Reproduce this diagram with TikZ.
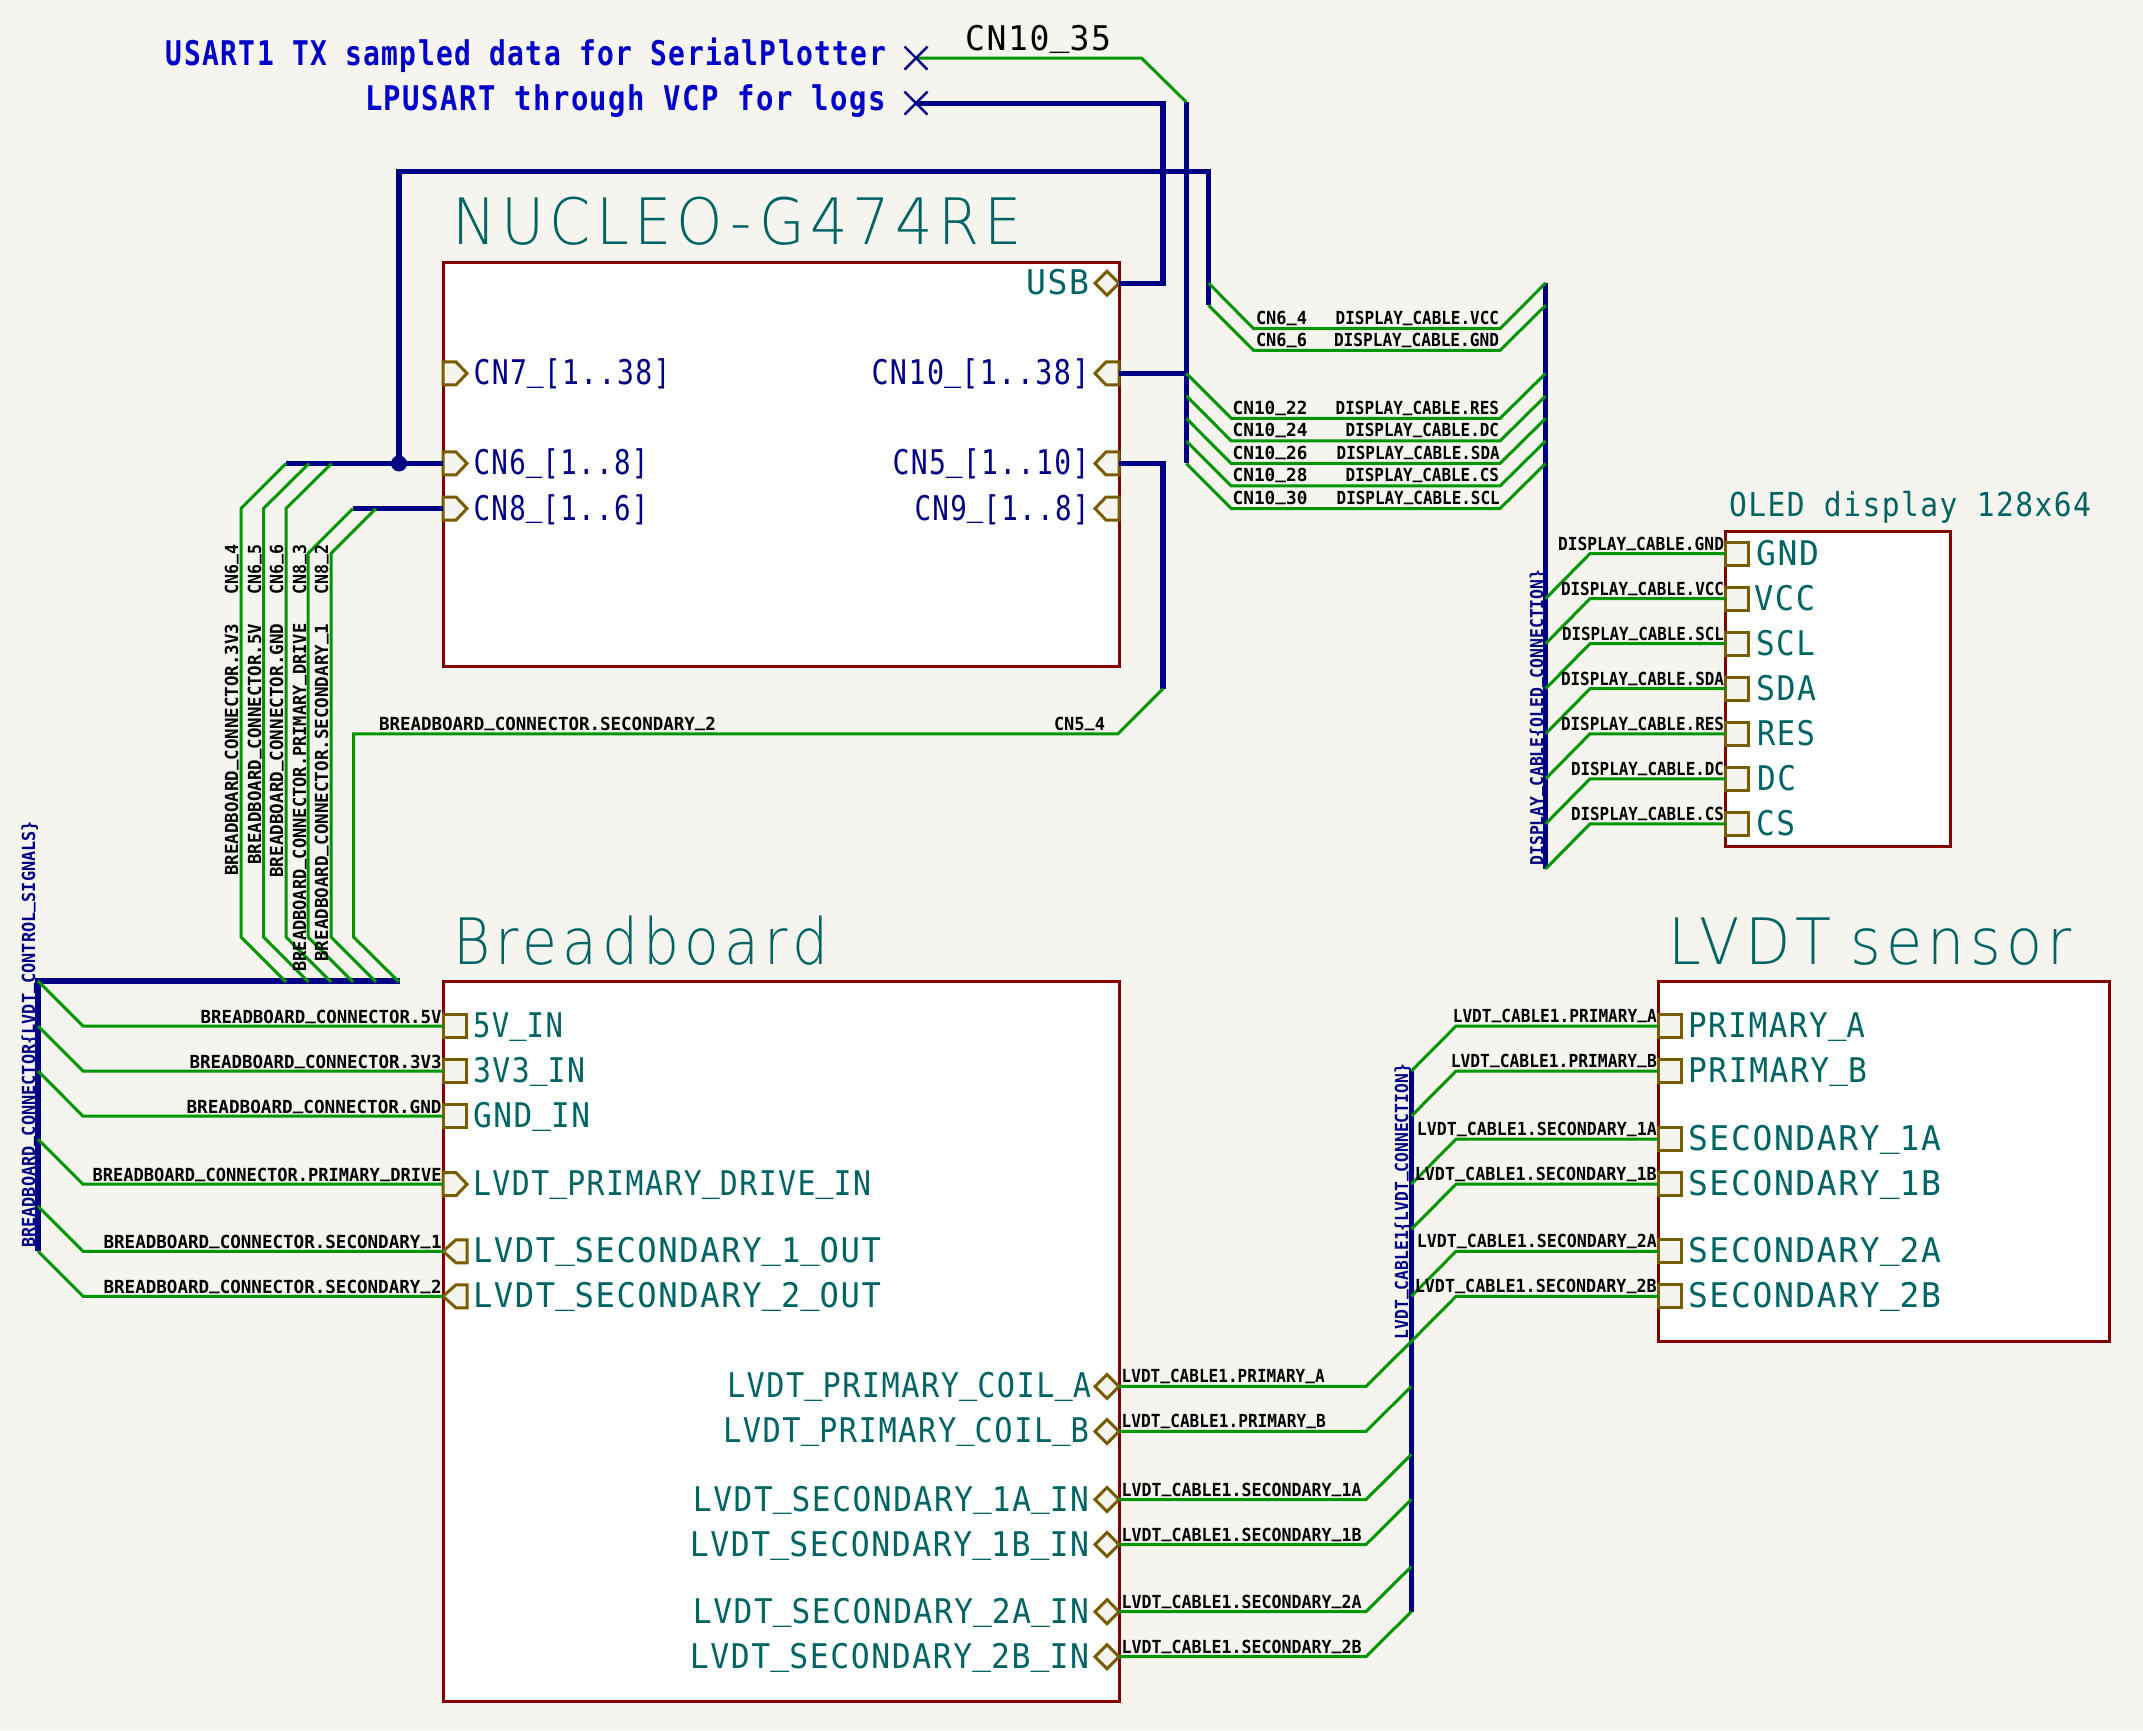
\documentclass[tikz,border=0pt]{standalone}
\usepackage{fontspec}
\newfontfamily\kmono{DejaVu Sans Mono}
\newfontfamily\kpin[LetterSpace=5]{DejaVu Sans Mono}
\newfontfamily\kglob[LetterSpace=5]{DejaVu Sans Mono}
\newfontfamily\kthin[LetterSpace=9]{DejaVu Sans ExtraLight}
\definecolor{paper}{HTML}{F5F4EF}
\definecolor{sheetred}{HTML}{840000}
\definecolor{busblue}{HTML}{000084}
\definecolor{globblue}{HTML}{0000C8}
\definecolor{wiregreen}{HTML}{009600}
\definecolor{teal}{HTML}{006464}
\definecolor{pinbrown}{HTML}{7A5C00}
\newcommand{\fs}[2]{\fontsize{#1}{#1}\selectfont\resizebox{#2pt}{\height}}
\newcommand{\smus}{\def\_{\raisebox{.2em}{\char"5F}}}
\newcommand{\bgus}{\def\_{\raisebox{.12em}{\char"5F}}}
% small net label: name, anchor, x, y, width, text
\newcommand{\sm}[6]{\node[lb,anchor=#2] (#1) at (#3,#4) {\smus\kmono\bfseries\fs{18}{#5}{#6}};}
\newcommand{\vsm}[5]{\node[lb,rotate=90,anchor=base east] (#1) at (#2,#3) {\smus\kmono\bfseries\fs{18}{#4}{#5}};}
\newcommand{\vbus}[5]{\node[lb,rotate=90,anchor=base east,text=busblue] (#1) at (#2,#3) {\smus\kmono\bfseries\fs{18}{#4}{#5}};}
% sheet pin text
\newcommand{\ptl}[7]{\node[lb,anchor=#2,text=#6] (#1) at (#3,#4) {\bgus\kpin\fs{34}{#5}{#7}};}
% pin shapes
\newcommand{\pinsq}[3]{\coordinate (#1) at (#2,#3); \draw[pin] ($(#1)+(0,-11.5)$) -- ++(23,0) -- ++(0,23) -- ++(-23,0) -- cycle;}
\newcommand{\pinin}[3]{\coordinate (#1) at (#2,#3); \draw[pin] ($(#1)+(0,-11.5)$) -- ++(13,0) -- ++(11,11.5) -- ++(-11,11.5) -- ++(-13,0) -- cycle;}
\newcommand{\pinout}[3]{\coordinate (#1) at (#2,#3); \draw[pin] (#1) -- ++(13,-11.5) -- ++(11,0) -- ++(0,23) -- ++(-11,0) -- cycle;}
\newcommand{\pinrin}[3]{\coordinate (#1) at (#2,#3); \draw[pin] ($(#1)+(0,-11.5)$) -- ++(-13,0) -- ++(-11,11.5) -- ++(11,11.5) -- ++(13,0) -- cycle;}
\newcommand{\pindi}[3]{\coordinate (#1) at (#2,#3); \draw[pin] (#1) -- ++(-12,-12) -- ++(-12,12) -- ++(12,12) -- cycle;}
\usetikzlibrary{calc}
\tikzset{
  lb/.style={inner sep=0pt,outer sep=0pt,text=black},
  sheet/.style={draw=sheetred,fill=white,line width=3pt,anchor=north west,inner sep=0pt,outer sep=0pt,line join=miter},
  wire/.style={draw=wiregreen,line width=3pt,line join=miter},
  bus/.style={draw=busblue,line width=5.2pt,line join=miter,line cap=butt},
  pin/.style={draw=pinbrown,fill=paper,line width=3pt,line join=miter},
  nc/.style={draw=busblue,line width=2.4pt},
}
\begin{document}
\begin{tikzpicture}[x=1pt,y=-1.001pt]
\fill[paper,use as bounding box] (0,0) rectangle (2143,1728.27);

% sheets
\node[sheet,minimum width=676pt,minimum height=404pt] (nucleo) at (443,262) {};
\node[sheet,minimum width=676pt,minimum height=720pt] (bboard) at (443,980) {};
\node[sheet,minimum width=451pt,minimum height=360pt] (lvdt) at (1658.5,980) {};
\node[sheet,minimum width=225pt,minimum height=315pt] (oled) at (1725.7,530.7) {};

% named points
\coordinate (ncA) at (916,58);
\coordinate (ncB) at (916,103);
\coordinate (busTopL) at (399,171);
\coordinate (busTopR) at (1208.5,171);
\coordinate (junc) at (399,463);
\coordinate (b35) at (1186.3,102);
\coordinate (b30) at (1186.3,463);
\coordinate (dTop) at (1545.6,282.7);
\coordinate (dBot) at (1545.6,868);
\coordinate (cBot) at (1208.5,305);
\coordinate (blT) at (38,980);
\coordinate (blR) at (400,980);
\coordinate (blB) at (38,1250);
\coordinate (lvT) at (1411.3,1070);
\coordinate (lvB) at (1411.3,1610);

% pins, Nucleo
\pindi{usb}{1119}{283}
\pinin{cnseven}{443}{373}
\pinin{cnsix}{443}{463}
\pinin{cneight}{443}{508}
\pinrin{cnten}{1119}{373}
\pinrin{cnfive}{1119}{463}
\pinrin{cnnine}{1119}{508}
% pins, Breadboard
\pinsq{bbfive}{443}{1025}
\pinsq{bbthree}{443}{1070}
\pinsq{bbgnd}{443}{1115}
\pinin{bbdrive}{443}{1183}
\pinout{bbsone}{443}{1250}
\pinout{bbstwo}{443}{1295}
\pindi{coa}{1119}{1385}
\pindi{cob}{1119}{1430}
\pindi{sia}{1119}{1498}
\pindi{sib}{1119}{1543}
\pindi{sja}{1119}{1610}
\pindi{sjb}{1119}{1655}
% pins, LVDT sensor
\pinsq{lpa}{1658.5}{1025}
\pinsq{lpb}{1658.5}{1070}
\pinsq{lia}{1658.5}{1138}
\pinsq{lib}{1658.5}{1183}
\pinsq{lja}{1658.5}{1250}
\pinsq{ljb}{1658.5}{1295}
% pins, OLED
\pinsq{ognd}{1725.7}{553}
\pinsq{ovcc}{1725.7}{598}
\pinsq{oscl}{1725.7}{643}
\pinsq{osda}{1725.7}{688}
\pinsq{ores}{1725.7}{733}
\pinsq{odc}{1725.7}{778}
\pinsq{ocs}{1725.7}{823}

% buses
\draw[bus] (ncB) -| (1163,283) -- (usb);
\draw[bus] (b35) -- (b30);
\draw[bus] (cnten) -- (b35 |- cnten);
\draw[bus] (junc) -- (busTopL) -- (busTopR) -- (cBot);
\draw[bus] (286,463) -- (cnsix);
\draw[bus] (352.7,508) -- (cneight);
\draw[bus] (cnfive) -| (1163,688);
\draw[bus] (dTop) -- (dBot);
\draw[bus] (blR) -- (blT) -- (blB);
\draw[bus] (lvT) -- (lvB);
\fill[busblue] (junc) circle (8);

% wires, breadboard connector to Nucleo
\draw[wire] (286,463) -- ++(-45,45) -- (241,936) -- ++(45,45);
\draw[wire] (309,463) -- ++(-45.5,45) -- (263.5,936) -- ++(45,45);
\draw[wire] (331.5,463) -- ++(-45.5,45) -- (286,936) -- ++(45,45);
\draw[wire] (353,508) -- ++(-45,45) -- (308,936) -- ++(45,45);
\draw[wire] (376,508) -- ++(-45,45) -- (331,936) -- ++(45,45);
\draw[wire] (1163,688) -- ++(-45,45) -- (353.5,733) -- (353.5,936) -- ++(45.5,45);
% wire CN10_35
\draw[wire] (ncA) -- (1141.5,58) -- (b35);
% wires, display cable
\draw[wire] (1208.5,282.7) -- ++(45,45.6) -- (1500,328.3) -- (dTop);
\draw[wire] (cBot) -- ++(45,45) -- (1500,350) -- (1545.6,305);
\draw[wire] (1186.3,373) -- ++(45,45) -- (1500,418) -- (1545.6,373);
\draw[wire] (1186.3,395.5) -- ++(45,45) -- (1500,440.5) -- (1545.6,395.5);
\draw[wire] (1186.3,418) -- ++(45,45) -- (1500,463) -- (1545.6,418);
\draw[wire] (1186.3,440.5) -- ++(45,45) -- (1500,485.5) -- (1545.6,440.5);
\draw[wire] (b30) -- ++(45,45) -- (1500,508) -- (1545.6,463);
% wires, OLED
\foreach \p in {ognd,ovcc,oscl,osda,ores,odc,ocs}
  \draw[wire] (\p) -- ++(-135.7,0) -- ++(-44.4,45);
% wires, breadboard left
\foreach \p in {bbfive,bbthree,bbgnd,bbdrive,bbsone,bbstwo}
  \draw[wire] (\p) -- ++(-360,0) -- ++(-45,-45);
% wires, LVDT
\foreach \p in {coa,cob,sia,sib,sja,sjb}
  \draw[wire] (\p) -- ++(247,0) -- ++(45.3,-45);
\foreach \p in {lpa,lpb,lia,lib,lja,ljb}
  \draw[wire] (\p) -- ++(-202.5,0) -- ++(-44.7,45);

% no-connect marks
\draw[nc] ($(ncA)+(-11.5,-11.5)$) -- ++(23,23) ($(ncA)+(11.5,-11.5)$) -- ++(-23,23);
\draw[nc] ($(ncB)+(-11.5,-11.5)$) -- ++(23,23) ($(ncB)+(11.5,-11.5)$) -- ++(-23,23);

% titles
\node[lb,anchor=base west,text=teal] (tnucleo) at (452,244.3) {\kthin\fs{64}{570}{NUCLEO-G474RE}};
\node[lb,anchor=base west,text=teal] (tbboard) at (453,964) {\kthin\fs{64}{375}{Breadboard}};
\node[lb,anchor=base west,text=teal] (tlvdt) at (1668,964) {\kthin\fs{64}{404}{LVDT\hspace{20pt}sensor}};
\node[lb,anchor=base west,text=teal] (toled) at (1729,516) {\kpin\fs{33}{362}{OLED display 128x64}};

% global labels
\node[lb,anchor=base east,text=globblue] (gusart) at (886,65) {\kglob\bfseries\fs{34}{720}{USART1 TX sampled data for SerialPlotter}};
\node[lb,anchor=base east,text=globblue] (glp) at (886,110) {\kglob\bfseries\fs{34}{521}{LPUSART through VCP for logs}};
\node[lb,anchor=base west] (lcn35) at (965,50) {\bgus\kpin\fs{34}{146}{CN10\_35}};

% Nucleo pin text
\ptl{nusb}{base east}{1089}{294.5}{63}{teal}{USB}
\ptl{ncn7}{base west}{473.5}{384.5}{197}{busblue}{CN7\_[1..38]}
\ptl{ncn6}{base west}{473.5}{474.5}{175}{busblue}{CN6\_[1..8]}
\ptl{ncn8}{base west}{473.5}{519.5}{175}{busblue}{CN8\_[1..6]}
\ptl{ncn10}{base east}{1089.5}{384.5}{218}{busblue}{CN10\_[1..38]}
\ptl{ncn5}{base east}{1089.5}{474.5}{197}{busblue}{CN5\_[1..10]}
\ptl{ncn9}{base east}{1089.5}{519.5}{175}{busblue}{CN9\_[1..8]}
% Breadboard pin text
\ptl{b5}{base west}{473}{1036.5}{90}{teal}{5V\_IN}
\ptl{b3}{base west}{473}{1081.5}{112}{teal}{3V3\_IN}
\ptl{bg}{base west}{473}{1126.5}{117}{teal}{GND\_IN}
\ptl{bd}{base west}{473}{1194.5}{398}{teal}{LVDT\_PRIMARY\_DRIVE\_IN}
\ptl{bs1}{base west}{473}{1261.5}{408}{teal}{LVDT\_SECONDARY\_1\_OUT}
\ptl{bs2}{base west}{473}{1306.5}{408}{teal}{LVDT\_SECONDARY\_2\_OUT}
\ptl{bca}{base east}{1091}{1396.5}{364}{teal}{LVDT\_PRIMARY\_COIL\_A}
\ptl{bcb}{base east}{1089}{1441.5}{366}{teal}{LVDT\_PRIMARY\_COIL\_B}
\ptl{b1a}{base east}{1089}{1509.5}{396}{teal}{LVDT\_SECONDARY\_1A\_IN}
\ptl{b1b}{base east}{1089}{1554.5}{399}{teal}{LVDT\_SECONDARY\_1B\_IN}
\ptl{b2a}{base east}{1089}{1621.5}{396}{teal}{LVDT\_SECONDARY\_2A\_IN}
\ptl{b2b}{base east}{1089}{1666.5}{399}{teal}{LVDT\_SECONDARY\_2B\_IN}
% LVDT pin text
\ptl{lta}{base west}{1688}{1036.5}{177}{teal}{PRIMARY\_A}
\ptl{ltb}{base west}{1688}{1081.5}{179}{teal}{PRIMARY\_B}
\ptl{lt1a}{base west}{1688}{1149.5}{253}{teal}{SECONDARY\_1A}
\ptl{lt1b}{base west}{1688}{1194.5}{253}{teal}{SECONDARY\_1B}
\ptl{lt2a}{base west}{1688}{1261.5}{253}{teal}{SECONDARY\_2A}
\ptl{lt2b}{base west}{1688}{1306.5}{253}{teal}{SECONDARY\_2B}
% OLED pin text
\ptl{ot1}{base west}{1756}{564.5}{63}{teal}{GND}
\ptl{ot2}{base west}{1754}{609.5}{61}{teal}{VCC}
\ptl{ot3}{base west}{1756}{654.5}{59}{teal}{SCL}
\ptl{ot4}{base west}{1756}{699.5}{60}{teal}{SDA}
\ptl{ot5}{base west}{1757}{744.5}{58}{teal}{RES}
\ptl{ot6}{base west}{1757}{789.5}{39}{teal}{DC}
\ptl{ot7}{base west}{1756}{834.5}{39}{teal}{CS}

% vertical net labels
\vsm{v1}{238}{623}{252}{BREADBOARD\_CONNECTOR.3V3}
\vsm{v2}{261}{623}{241}{BREADBOARD\_CONNECTOR.5V}
\vsm{v3}{283}{623}{254}{BREADBOARD\_CONNECTOR.GND}
\vsm{v4}{306}{623}{348}{BREADBOARD\_CONNECTOR.PRIMARY\_DRIVE}
\vsm{v5}{328}{623}{338}{BREADBOARD\_CONNECTOR.SECONDARY\_1}
\vsm{c1}{238}{544}{50}{CN6\_4}
\vsm{c2}{261}{544}{50}{CN6\_5}
\vsm{c3}{283}{544}{50}{CN6\_6}
\vsm{c4}{306}{544}{50}{CN8\_3}
\vsm{c5}{328}{544}{50}{CN8\_2}
% bus labels
\vbus{vb1}{1543.3}{569}{296}{DISPLAY\_CABLE\{OLED\_CONNECTION\}}
\vbus{vb2}{1408}{1063}{275}{LVDT\_CABLE1\{LVDT\_CONNECTION\}}
\vbus{vb3}{35}{820}{427}{BREADBOARD\_CONNECTOR\{LVDT\_CONTROL\_SIGNALS\}}

% long wire labels
\sm{s2l}{base west}{379}{729.5}{337}{BREADBOARD\_CONNECTOR.SECONDARY\_2}
\sm{s2r}{base west}{1054}{729.5}{51}{CN5\_4}
% top display labels
\sm{d1}{base west}{1256}{324.5}{51}{CN6\_4}
\sm{d2}{base west}{1256}{346.5}{51}{CN6\_6}
\sm{d3}{base west}{1232.7}{414.5}{74.7}{CN10\_22}
\sm{d4}{base west}{1232.7}{436.5}{74.7}{CN10\_24}
\sm{d5}{base west}{1232.7}{459}{74.7}{CN10\_26}
\sm{d6}{base west}{1232.7}{481.5}{74.7}{CN10\_28}
\sm{d7}{base west}{1232.7}{504}{74.7}{CN10\_30}
\sm{e1}{base east}{1499}{324.5}{163.3}{DISPLAY\_CABLE.VCC}
\sm{e2}{base east}{1499}{346.5}{165}{DISPLAY\_CABLE.GND}
\sm{e3}{base east}{1499}{414.5}{163.3}{DISPLAY\_CABLE.RES}
\sm{e4}{base east}{1499}{436.5}{153.3}{DISPLAY\_CABLE.DC}
\sm{e5}{base east}{1499.7}{459}{163}{DISPLAY\_CABLE.SDA}
\sm{e6}{base east}{1499}{481.5}{153.3}{DISPLAY\_CABLE.CS}
\sm{e7}{base east}{1499.7}{504}{163}{DISPLAY\_CABLE.SCL}
% OLED labels
\sm{f1}{base east}{1724}{549.5}{166}{DISPLAY\_CABLE.GND}
\sm{f2}{base east}{1724}{594.5}{163}{DISPLAY\_CABLE.VCC}
\sm{f3}{base east}{1724}{639.5}{162}{DISPLAY\_CABLE.SCL}
\sm{f4}{base east}{1724}{684.5}{163}{DISPLAY\_CABLE.SDA}
\sm{f5}{base east}{1724}{729.5}{163}{DISPLAY\_CABLE.RES}
\sm{f6}{base east}{1724}{774.5}{153}{DISPLAY\_CABLE.DC}
\sm{f7}{base east}{1724}{819.5}{153}{DISPLAY\_CABLE.CS}
% breadboard left labels
\sm{g1}{base east}{441.6}{1022}{241}{BREADBOARD\_CONNECTOR.5V}
\sm{g2}{base east}{441.6}{1067}{252}{BREADBOARD\_CONNECTOR.3V3}
\sm{g3}{base east}{441.6}{1112}{255}{BREADBOARD\_CONNECTOR.GND}
\sm{g4}{base east}{441.6}{1180}{349}{BREADBOARD\_CONNECTOR.PRIMARY\_DRIVE}
\sm{g5}{base east}{441.6}{1247}{338}{BREADBOARD\_CONNECTOR.SECONDARY\_1}
\sm{g6}{base east}{441.6}{1292}{338}{BREADBOARD\_CONNECTOR.SECONDARY\_2}
% breadboard right labels
\sm{h1}{base west}{1121.7}{1381.5}{203}{LVDT\_CABLE1.PRIMARY\_A}
\sm{h2}{base west}{1121.7}{1426.5}{204}{LVDT\_CABLE1.PRIMARY\_B}
\sm{h3}{base west}{1121.7}{1494.5}{240}{LVDT\_CABLE1.SECONDARY\_1A}
\sm{h4}{base west}{1121.7}{1539.5}{240}{LVDT\_CABLE1.SECONDARY\_1B}
\sm{h5}{base west}{1121.7}{1606.5}{240}{LVDT\_CABLE1.SECONDARY\_2A}
\sm{h6}{base west}{1121.7}{1651.5}{240}{LVDT\_CABLE1.SECONDARY\_2B}
% sensor labels
\sm{k1}{base east}{1656.8}{1021.5}{204}{LVDT\_CABLE1.PRIMARY\_A}
\sm{k2}{base east}{1656.8}{1066.5}{206}{LVDT\_CABLE1.PRIMARY\_B}
\sm{k3}{base east}{1656.8}{1134.5}{240}{LVDT\_CABLE1.SECONDARY\_1A}
\sm{k4}{base east}{1656.8}{1179.5}{242}{LVDT\_CABLE1.SECONDARY\_1B}
\sm{k5}{base east}{1656.8}{1246.5}{240}{LVDT\_CABLE1.SECONDARY\_2A}
\sm{k6}{base east}{1656.8}{1291.5}{242}{LVDT\_CABLE1.SECONDARY\_2B}
\end{tikzpicture}
\end{document}
